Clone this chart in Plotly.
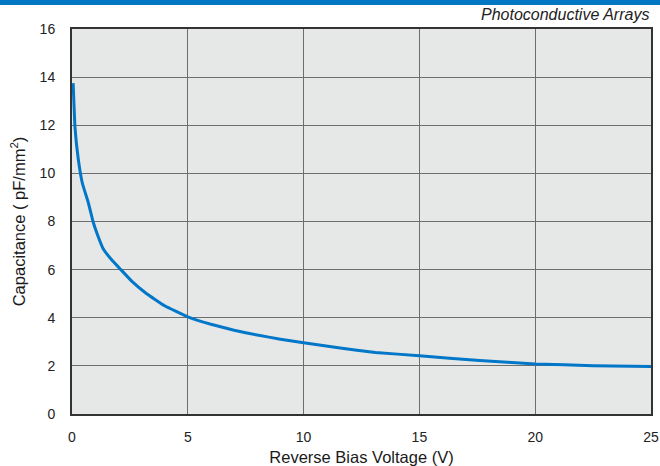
import plotly.graph_objects as go

# Capacitance per unit area versus reverse bias, photoconductive arrays
voltage = [0.05, 0.13, 0.27, 0.45, 0.7, 0.91, 1.1, 1.34, 1.7, 2.06, 2.6, 3.21,
           4.0, 5.0, 6.0, 7.0, 8.0, 9.0, 10.0, 11.5, 13.1, 15.0, 17.6, 20.0, 22.5, 25.0]
capacitance = [13.75, 11.9, 10.6, 9.58, 8.8, 7.99, 7.45, 6.88, 6.42, 6.05, 5.5, 5.01,
               4.5, 4.04, 3.73, 3.48, 3.28, 3.11, 2.96, 2.75, 2.56, 2.42, 2.22, 2.08, 2.01, 1.97]

x_ticks = [0, 5, 10, 15, 20, 25]
y_ticks = [0, 2, 4, 6, 8, 10, 12, 14, 16]

FONT = "Liberation Sans, Arial, sans-serif"
W, H = 660, 466
M = dict(l=72, r=9, t=29, b=52)
plot_h = H - M["t"] - M["b"]

fig = go.Figure()
fig.add_trace(go.Scatter(
    x=voltage, y=capacitance, mode="lines",
    line=dict(color="#0077c8", width=3, shape="spline", smoothing=0.3),
    hoverinfo="skip", showlegend=False,
))

axis_common = dict(
    showgrid=True, gridcolor="#6e6e6e", gridwidth=1,
    showline=True, linecolor="#333333", linewidth=2, mirror=True,
    zeroline=False, ticks="", automargin=False,
    tickfont=dict(family=FONT, size=14, color="#222222"),
)

fig.update_layout(
    width=W, height=H, margin=M,
    paper_bgcolor="white", plot_bgcolor="#e6e7e7",
    xaxis=dict(range=[0, 25], tickvals=x_ticks, ticklabelstandoff=9,
               title=dict(text="Reverse Bias Voltage (V)", standoff=8,
                          font=dict(family=FONT, size=16.5, color="#1a1a1a")),
               **axis_common),
    yaxis=dict(range=[0, 16], tickvals=y_ticks, ticklabelstandoff=12,
               title=dict(text="Capacitance ( pF/mm<sup>2</sup>)", standoff=10,
                          font=dict(family=FONT, size=16.5, color="#1a1a1a")),
               **axis_common),
    shapes=[dict(type="rect", xref="paper", yref="paper", layer="above",
                 x0=-1, x1=2, y0=1 + (M["t"] - 5) / plot_h, y1=1.2,
                 fillcolor="#0077c0", line=dict(width=0))],
    annotations=[dict(text="<i>Photoconductive Arrays</i>", xref="paper", yref="paper",
                      x=1, y=1 + (M["t"] - 15) / plot_h, xanchor="right", yanchor="middle",
                      showarrow=False,
                      font=dict(family=FONT, size=16, color="#222222"))],
)

fig.write_html("out.html")
